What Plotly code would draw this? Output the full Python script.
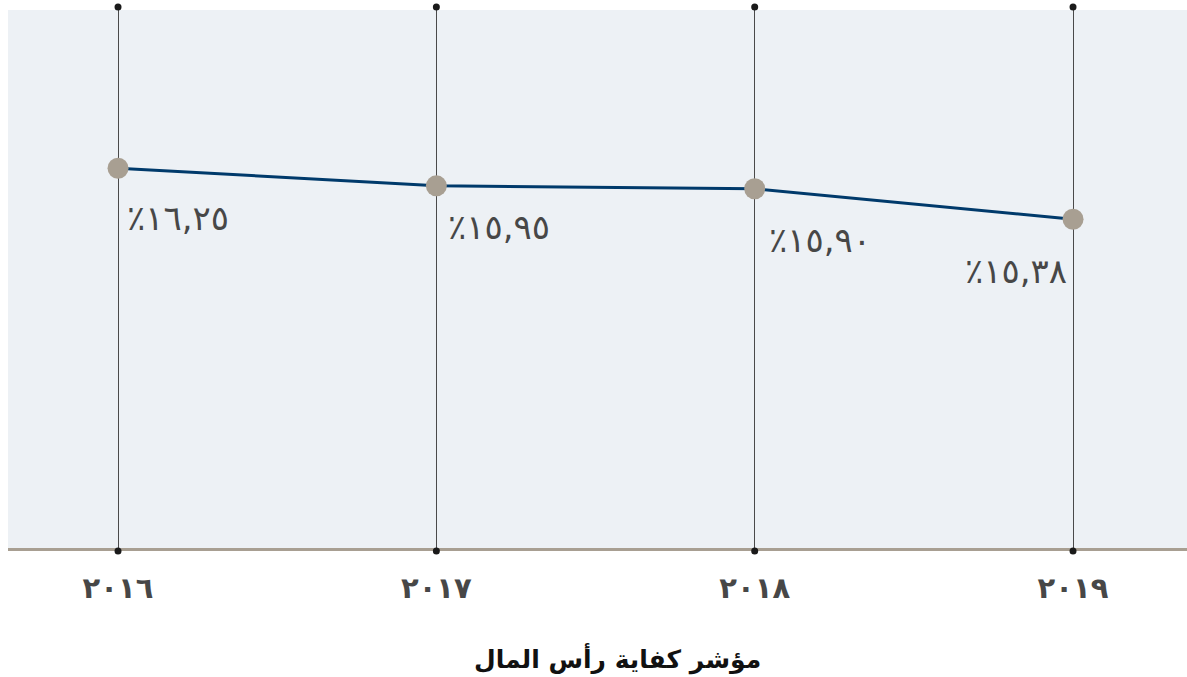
import plotly.graph_objects as go

# Capital adequacy ratio by year
years = [2016, 2017, 2018, 2019]
year_labels = ["٢٠١٦", "٢٠١٧", "٢٠١٨", "٢٠١٩"]
ratio = [16.25, 15.95, 15.90, 15.38]
ratio_labels = ["٪١٦,٢٥", "٪١٥,٩٥", "٪١٥,٩٠", "٪١٥,٣٨"]
title_text = "مؤشر كفاية رأس المال"

LINE_COLOR = "#003a6b"
MARKER_COLOR = "#a89f92"
GRID_COLOR = "#4a4a4a"
TEXT_COLOR = "#474747"
AR_FONT = "DejaVu Sans"

fig = go.Figure()
fig.add_trace(go.Scatter(
    x=years, y=ratio, mode="lines+markers",
    line=dict(color=LINE_COLOR, width=3),
    marker=dict(color=MARKER_COLOR, size=21),
    hoverinfo="skip", showlegend=False, cliponaxis=False,
))

# value labels under each point
label_offsets = [(7, -50, "left"), (10, -41, "left"), (12, -51, "left"), (-4, -52, "right")]
for x, y, txt, (dx, dy, anchor) in zip(years, ratio, ratio_labels, label_offsets):
    fig.add_annotation(
        x=x, y=y, text=txt, showarrow=False,
        xanchor=anchor, yanchor="middle", xshift=dx, yshift=dy,
        font=dict(family=AR_FONT, size=34, color=TEXT_COLOR),
    )

# small dots at both ends of each vertical grid line
shapes = []
for x in years:
    for anchor, off in ((1, 3), (0, -3)):
        shapes.append(dict(
            type="circle", xref="x", yref="paper",
            xsizemode="pixel", ysizemode="pixel",
            xanchor=x, yanchor=anchor,
            x0=-3.5, x1=3.5, y0=off - 3.5, y1=off + 3.5,
            fillcolor="#1a1a1a", line=dict(width=0), layer="above",
        ))

fig.add_annotation(
    xref="paper", yref="paper", x=0.5, y=0, xshift=20, yshift=-111,
    text="<b>" + title_text + "</b>", showarrow=False,
    xanchor="center", yanchor="middle",
    font=dict(family=AR_FONT, size=25, color="#111111"),
)

fig.update_layout(
    width=1187, height=677,
    margin=dict(l=8, r=0, t=10, b=129),
    paper_bgcolor="white", plot_bgcolor="#edf1f5",
    shapes=shapes,
    xaxis=dict(
        range=[2016 - 0.3456, 2016 + 3.358],
        tickvals=years, ticktext=year_labels,
        showgrid=True, gridcolor=GRID_COLOR, gridwidth=1,
        showline=True, linecolor=MARKER_COLOR, linewidth=3,
        ticks="", ticklabelstandoff=12, zeroline=False,
        tickfont=dict(family=AR_FONT, size=29, color=TEXT_COLOR, weight="bold"),
    ),
    yaxis=dict(
        range=[9.77, 18.95], visible=False, showgrid=False, zeroline=False,
    ),
)

fig.write_html("out.html")
